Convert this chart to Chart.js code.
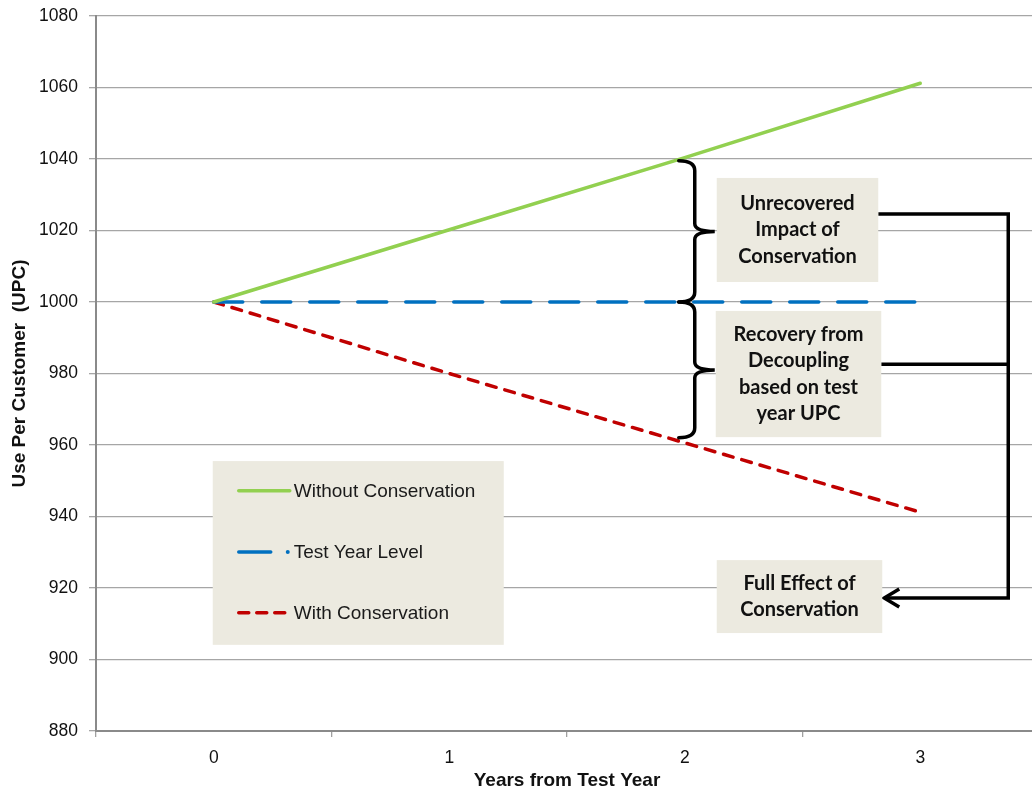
<!DOCTYPE html>
<html>
<head>
<meta charset="utf-8">
<script src="https://cdn.jsdelivr.net/npm/chart.js@4.4.1/dist/chart.umd.min.js"></script>
<style>
  html, body { margin: 0; padding: 0; background: #fff; overflow: hidden; }
  #wrap { position: relative; width: 1044px; height: 796px; }
</style>
</head>
<body>
<div id="wrap"><canvas id="upcChart"></canvas></div>
<script>
// ===== DATA =====
const years = ['0', '1', '2', '3'];
const withoutConservation = [1000, 1020.2, 1040.4, 1061.2];
const testYearLevel = [1000, 1000, 1000, 1000];
const withConservation = [1000, 980, 960.6, 941.2];
const yTicks = [880, 900, 920, 940, 960, 980, 1000, 1020, 1040, 1060, 1080];

const GREEN = '#92D050';
const BLUE = '#0070C0';
const RED = '#C00000';
const BOX_FILL = '#ECEAE0';
const LABEL_FONT = '"Liberation Sans", Arial, sans-serif';
const NOTE_FONT = 'Lato, "Open Sans", sans-serif';

// ===== ANNOTATIONS (braces, boxes, connectors, legend) =====
function brace(ctx, x, top, bot, tip) {
  const mid = (top + bot) / 2;
  ctx.beginPath();
  ctx.moveTo(x - 16, top);
  ctx.quadraticCurveTo(x, top, x, top + 10);
  ctx.lineTo(x, mid - 8);
  ctx.quadraticCurveTo(x, mid, x + tip, mid);
  ctx.quadraticCurveTo(x, mid, x, mid + 8);
  ctx.lineTo(x, bot - 10);
  ctx.quadraticCurveTo(x, bot, x - 16, bot);
  ctx.stroke();
}

function noteBox(ctx, l, t, r, b, lines, lh) {
  ctx.fillStyle = BOX_FILL;
  ctx.fillRect(l, t, r - l, b - t);
  ctx.fillStyle = '#111';
  ctx.font = 'bold 20px ' + NOTE_FONT;
  ctx.textAlign = 'center';
  ctx.textBaseline = 'middle';
  const cx = (l + r) / 2, cy = (t + b) / 2;
  lines.forEach((s, i) => {
    ctx.fillText(s, cx, cy + (i - (lines.length - 1) / 2) * lh);
  });
}

const annotations = {
  id: 'annotations',
  afterDatasetsDraw(chart) {
    const ctx = chart.ctx;
    const xs = chart.scales.x, ys = chart.scales.y;
    const x2 = xs.getPixelForValue(2), x3 = xs.getPixelForValue(3);
    const x0 = xs.getPixelForValue(0);
    const Y = v => ys.getPixelForValue(v);
    ctx.save();

    // braces
    ctx.strokeStyle = '#000';
    ctx.lineWidth = 3.5;
    ctx.lineCap = 'round';
    brace(ctx, x2 + 10, Y(1039.5), Y(1000), 20);
    brace(ctx, x2 + 10, Y(1000), Y(962), 20);

    // connectors
    const right = x3 + 88;
    ctx.lineCap = 'butt';
    ctx.lineJoin = 'miter';
    ctx.beginPath();
    ctx.moveTo(x3 - 42, Y(1024.6));
    ctx.lineTo(right, Y(1024.6));
    ctx.lineTo(right, Y(917.2));
    ctx.lineTo(x3 - 36, Y(917.2));
    ctx.moveTo(x3 - 39, Y(982.6));
    ctx.lineTo(right, Y(982.6));
    ctx.stroke();
    // arrow head
    ctx.beginPath();
    ctx.moveTo(x3 - 21, Y(917.2) - 9);
    ctx.lineTo(x3 - 36, Y(917.2));
    ctx.lineTo(x3 - 21, Y(917.2) + 9);
    ctx.stroke();

    // note boxes
    noteBox(ctx, x2 + 32, Y(1034.7), x3 - 42, Y(1005.6),
      ['Unrecovered', 'Impact of', 'Conservation'], 26.5);
    noteBox(ctx, x2 + 31, Y(997.5), x3 - 39, Y(962.2),
      ['Recovery from', 'Decoupling', 'based on test', 'year UPC'], 26.5);
    noteBox(ctx, x2 + 32, Y(927.8), x3 - 38, Y(907.4),
      ['Full Effect of', 'Conservation'], 25.5);

    // legend box
    const lt = Y(955.5), lb = Y(904.1);
    ctx.fillStyle = BOX_FILL;
    ctx.fillRect(x0 - 1, lt, 291, lb - lt);
    const rows = [
      { label: 'Without Conservation', y: Y(947.2) },
      { label: 'Test Year Level', y: Y(930.1) },
      { label: 'With Conservation', y: Y(913.1) }
    ];
    const sx = x0 + 23;
    ctx.lineWidth = 3.5;
    ctx.lineCap = 'round';
    // green solid
    ctx.strokeStyle = GREEN;
    ctx.beginPath(); ctx.moveTo(sx + 2, rows[0].y); ctx.lineTo(sx + 53, rows[0].y); ctx.stroke();
    // blue dash + dot
    ctx.strokeStyle = BLUE;
    ctx.beginPath(); ctx.moveTo(sx + 2, rows[1].y); ctx.lineTo(sx + 34, rows[1].y); ctx.stroke();
    ctx.fillStyle = BLUE;
    ctx.beginPath(); ctx.arc(sx + 51, rows[1].y, 2, 0, Math.PI * 2); ctx.fill();
    // red dashes
    ctx.strokeStyle = RED;
    ctx.setLineDash([10, 8]);
    ctx.beginPath(); ctx.moveTo(sx + 2, rows[2].y); ctx.lineTo(sx + 48, rows[2].y); ctx.stroke();
    ctx.setLineDash([]);
    ctx.fillStyle = '#1a1a1a';
    ctx.font = '19px ' + LABEL_FONT;
    ctx.textAlign = 'left';
    ctx.textBaseline = 'middle';
    rows.forEach(r => ctx.fillText(r.label, sx + 57, r.y + 1));

    ctx.restore();
  }
};

// ===== CHART =====
new Chart(document.getElementById('upcChart'), {
  type: 'line',
  data: {
    labels: years,
    datasets: [
      {
        label: 'Without Conservation',
        data: withoutConservation,
        borderColor: GREEN,
        borderWidth: 3.5,
        borderCapStyle: 'round'
      },
      {
        label: 'Test Year Level',
        data: testYearLevel,
        borderColor: BLUE,
        borderWidth: 3.5,
        borderDash: [29, 19],
        borderCapStyle: 'round'
      },
      {
        label: 'With Conservation',
        data: withConservation,
        borderColor: RED,
        borderWidth: 3.5,
        borderDash: [10, 9],
        borderCapStyle: 'round'
      }
    ]
  },
  options: {
    responsive: true,
    maintainAspectRatio: false,
    animation: false,
    layout: { padding: { top: 16, right: 6, left: 0, bottom: 0 } },
    elements: { point: { radius: 0, hoverRadius: 0 }, line: { tension: 0, fill: false } },
    plugins: { legend: { display: false }, tooltip: { enabled: false } },
    scales: {
      x: {
        type: 'category',
        offset: true,
        grid: {
          offset: true,
          drawOnChartArea: false,
          drawTicks: true,
          tickLength: 6,
          color: '#a0a0a0',
          lineWidth: 1.3
        },
        border: { color: '#8a8a8a', width: 2 },
        ticks: { font: { family: LABEL_FONT, size: 17.5 }, color: '#111', padding: 11 },
        title: {
          display: true,
          text: 'Years from Test Year',
          font: { family: LABEL_FONT, size: 19, weight: 'bold' },
          color: '#111',
          padding: { top: 2, bottom: 4 }
        },
        afterFit(scale) { scale.height = 65; scale.paddingLeft = 0; scale.paddingRight = 0; }
      },
      y: {
        min: 880,
        max: 1080,
        afterBuildTicks(scale) { scale.ticks = yTicks.map(v => ({ value: v })); },
        grid: { color: '#a6a6a6', lineWidth: 1.3, tickLength: 7 },
        border: { color: '#8a8a8a', width: 2 },
        ticks: {
          font: { family: LABEL_FONT, size: 17.5 },
          color: '#111',
          padding: 11,
          callback: v => String(v)
        },
        title: {
          display: true,
          text: 'Use Per Customer  (UPC)',
          font: { family: LABEL_FONT, size: 19, weight: 'bold' },
          color: '#111',
          padding: { top: 8, bottom: 0 }
        },
        afterFit(scale) { scale.width = 96; scale.paddingTop = 0; scale.paddingBottom = 0; }
      }
    }
  },
  plugins: [annotations]
});
</script>
</body>
</html>
